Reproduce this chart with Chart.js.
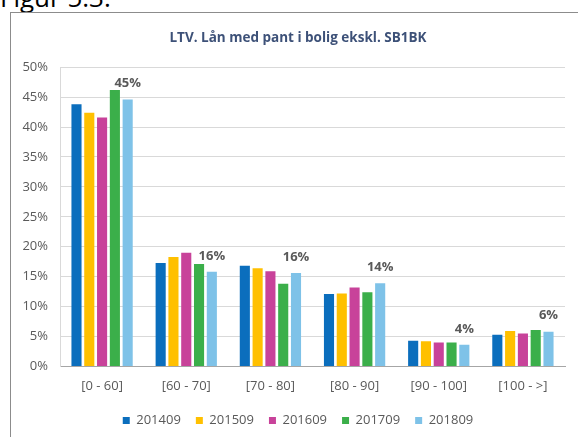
<!DOCTYPE html>
<html lang="no">
<head>
  <meta charset="UTF-8" />
  <title>LTV. Lån med pant i bolig ekskl. SB1BK</title>
  <style>
    html, body { margin: 0; padding: 0; background: #fff; overflow: hidden; }
    body { width: 578px; height: 437px; position: relative; font-family: "Open Sans", sans-serif; }
    #fig { position: absolute; left: 0; top: -18px; font-size: 26px; color: #000; line-height: 30px; white-space: nowrap; }
    #box { position: absolute; left: 10px; top: 12px; width: 600px; height: 460px; border: 1px solid #8c8c8c; }
    #graph { position: absolute; left: 0; top: 0; }
  </style>
</head>
<body>

<div id="fig">Figur 5.3.</div>
<div id="box"></div>
<canvas id="graph" width="596" height="437"></canvas>

<script src="https://cdn.jsdelivr.net/npm/chart.js"></script>
<script>
// LTV-intervaller
const categories = ['[0 - 60]', '[60 - 70]', '[70 - 80]', '[80 - 90]', '[90 - 100]', '[100 - >]'];
const periods = ['201409', '201509', '201609', '201709', '201809'];

// andel av lån (%), lest av figuren
const s201409 = [43.8, 17.3, 16.8, 12.1, 4.3, 5.3];
const s201509 = [42.4, 18.3, 16.4, 12.2, 4.2, 5.9];
const s201609 = [41.6, 19.0, 15.9, 13.2, 4.0, 5.5];
const s201709 = [46.2, 17.1, 13.8, 12.4, 4.0, 6.1];
const s201809 = [44.6, 15.8, 15.6, 13.9, 3.6, 5.8];

// etiketter over siste periode
const labels201809 = ['45%', '16%', '16%', '14%', '4%', '6%'];

const colors = ['#0B6EBD', '#FFC000', '#C8429A', '#3BAF4A', '#7EC2E8'];
const series = [s201409, s201509, s201609, s201709, s201809];

const barLabels = {
  id: 'barLabels',
  afterDatasetsDraw(chart) {
    const ctx = chart.ctx;
    const meta = chart.getDatasetMeta(4);
    ctx.save();
    ctx.font = 'bold 13px "Open Sans"';
    ctx.fillStyle = '#595959';
    ctx.textAlign = 'center';
    ctx.textBaseline = 'middle';
    meta.data.forEach((bar, i) => {
      ctx.fillText(labels201809[i], bar.x, bar.y - 16);
    });
    ctx.restore();
  }
};

const ctx = document.getElementById('graph').getContext('2d');
new Chart(ctx, {
  type: 'bar',
  data: {
    labels: categories,
    datasets: series.map((d, i) => ({
      label: periods[i],
      data: d,
      backgroundColor: colors[i],
      categoryPercentage: 0.76,
      barPercentage: 0.79
    }))
  },
  options: {
    responsive: false,
    animation: false,
    layout: { padding: 0 },
    plugins: {
      title: {
        display: true,
        text: 'LTV. Lån med pant i bolig ekskl. SB1BK',
        color: '#3D5178',
        font: { family: 'Open Sans', size: 13.5, weight: 'bold' },
        padding: { top: 30, bottom: 21 }
      },
      legend: {
        position: 'bottom',
        labels: {
          boxWidth: 7,
          boxHeight: 7,
          padding: 15,
          color: '#595959',
          font: { family: 'Open Sans', size: 13 }
        }
      },
      tooltip: { enabled: false }
    },
    scales: {
      x: {
        grid: { display: false },
        border: { color: '#A6A6A6' },
        afterFit: s => { s.height = s.height + 1; },
        ticks: { color: '#595959', padding: 4, font: { family: 'Open Sans', size: 13 } }
      },
      y: {
        min: 0,
        max: 50,
        grid: { color: '#D9D9D9', drawTicks: false },
        border: { color: '#D9D9D9' },
        afterFit: s => { s.width = 60; },
        ticks: {
          stepSize: 5,
          padding: 12,
          color: '#595959',
          font: { family: 'Open Sans', size: 13 },
          callback: v => v + '%'
        }
      },
      // tom akse til høyre, holder plass mellom plott og ramme
      yRight: {
        position: 'right',
        grid: { display: false },
        border: { display: false },
        ticks: { display: false },
        afterFit: s => { s.width = 31; }
      }
    }
  },
  plugins: [barLabels]
});
</script>

</body>
</html>
